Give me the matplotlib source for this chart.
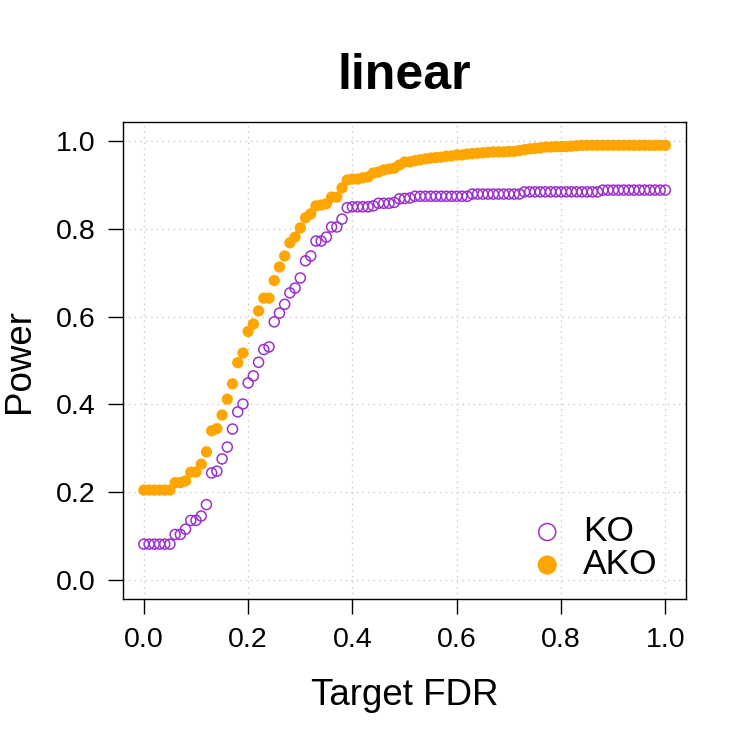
import numpy as np
import matplotlib
matplotlib.use("Agg")
import matplotlib.pyplot as plt

plt.rcParams['font.family'] = ['Liberation Sans', 'DejaVu Sans']

# target FDR grid
fdr = [round(i * 0.01, 2) for i in range(101)]

# power of KO (open purple circles)
ko_power = ([0.082] * 6 +
            [0.104, 0.104, 0.116, 0.136, 0.136, 0.146, 0.172, 0.244, 0.248, 0.276,
             0.303, 0.344, 0.383, 0.401, 0.449, 0.465, 0.496, 0.525, 0.531, 0.588,
             0.608, 0.628, 0.654, 0.665, 0.688, 0.727, 0.738, 0.772, 0.772, 0.781,
             0.804, 0.804, 0.822, 0.848, 0.850, 0.850, 0.850, 0.850, 0.852, 0.858,
             0.858, 0.858, 0.860, 0.868, 0.869, 0.870] +
            [0.874] * 11 + [0.879] * 10 + [0.884] * 15 + [0.888] * 13)

# power of AKO (filled orange dots)
ako_power = ([0.205] * 6 +
             [0.222, 0.222, 0.226, 0.246, 0.246, 0.264, 0.292, 0.340, 0.345, 0.376,
              0.412, 0.447, 0.495, 0.517, 0.566, 0.583, 0.613, 0.642, 0.642, 0.682,
              0.713, 0.738, 0.768, 0.781, 0.802, 0.825, 0.834, 0.852, 0.854, 0.857,
              0.872, 0.872, 0.893, 0.911, 0.913, 0.913, 0.916, 0.918, 0.927, 0.929,
              0.934, 0.936, 0.938, 0.945, 0.952, 0.952, 0.955, 0.957, 0.959, 0.961,
              0.962, 0.963, 0.965, 0.966, 0.968, 0.968, 0.970, 0.971, 0.972, 0.973,
              0.974, 0.975, 0.975, 0.975, 0.976, 0.976, 0.978, 0.980, 0.982, 0.983,
              0.984, 0.986, 0.986, 0.987, 0.987, 0.987, 0.988, 0.989, 0.990] +
             [0.990] * 16)

ticks = [0.0, 0.2, 0.4, 0.6, 0.8, 1.0]
tick_labels = ["0.0", "0.2", "0.4", "0.6", "0.8", "1.0"]

fig = plt.figure(figsize=(7.5, 7.5), dpi=100)
ax = fig.add_axes([0.164, 0.2013, 0.751, 0.636])

# dotted grid like R's grid()
for t in ticks:
    ax.axhline(t, color='#c8c8c8', linestyle=(0, (1, 3)), linewidth=1, zorder=0)
    ax.axvline(t, color='#c8c8c8', linestyle=(0, (1, 3)), linewidth=1, zorder=0)

ax.scatter(fdr, ko_power, s=52, facecolors='none', edgecolors='#9932CC',
           linewidths=1.1, label='KO', zorder=3)
ax.scatter(fdr, ako_power, s=66, color='#FFA500', edgecolors='none',
           label='AKO', zorder=3)

ax.set_xlim(-0.04, 1.04)
ax.set_ylim(-0.043, 1.043)
ax.set_xticks(ticks)
ax.set_xticklabels(tick_labels)
ax.set_yticks(ticks)
ax.set_yticklabels(tick_labels)
ax.tick_params(direction='out', length=10.5, width=1, labelsize=20.5)
ax.tick_params(axis='x', pad=10)
ax.tick_params(axis='y', pad=9)
for sp in ax.spines.values():
    sp.set_linewidth(1)

ax.set_title('linear', fontsize=36, fontweight='bold', pad=24)
ax.set_xlabel('Target FDR', fontsize=26.5, labelpad=18)
ax.set_ylabel('Power', fontsize=26.5, labelpad=14)

leg = ax.legend(loc='lower right', bbox_to_anchor=(0.98, 0.0), frameon=False,
                fontsize=25.5, markerscale=1.7, handletextpad=0.0,
                borderaxespad=0.3, labelspacing=0.0, borderpad=0.2)

fig.savefig('out.png', dpi=100)
